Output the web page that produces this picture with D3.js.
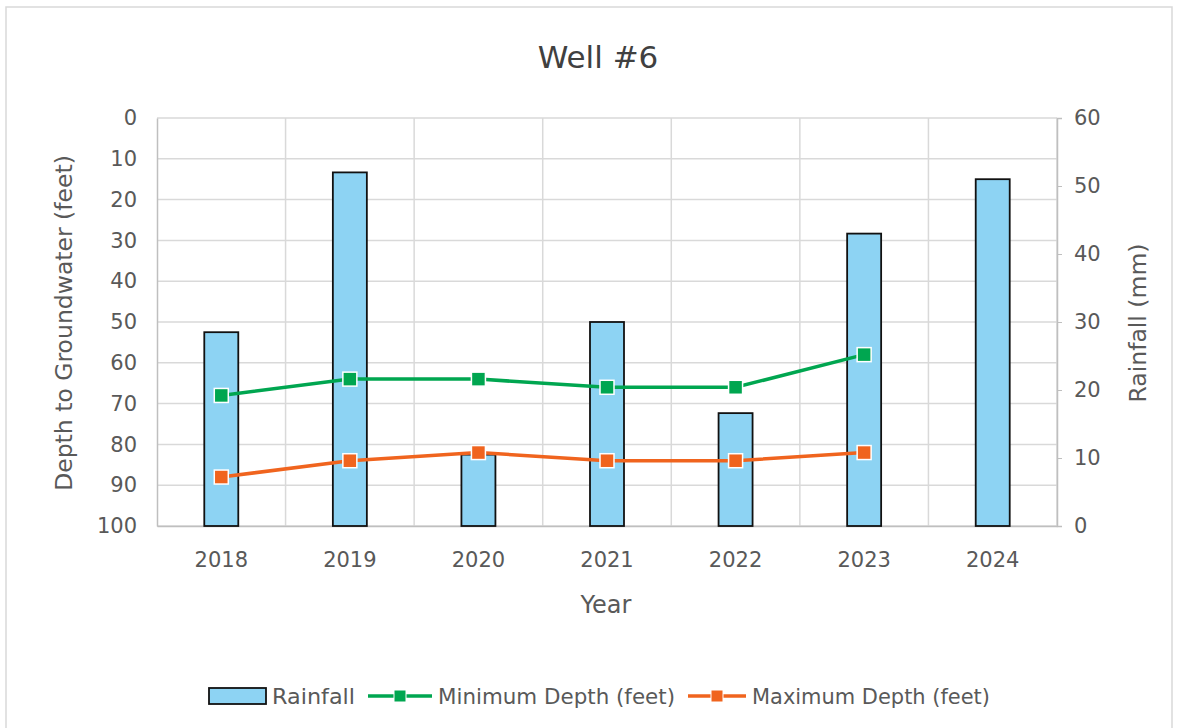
<!DOCTYPE html>
<html><head><meta charset="utf-8">
<script src="https://cdn.jsdelivr.net/npm/d3@7"></script>
<style>html,body{margin:0;padding:0;background:#fff;}svg{display:block;}</style>
</head><body>
<svg id="c" width="1184" height="728"></svg>
<script>
const years = ["2018","2019","2020","2021","2022","2023","2024"];
const rainfall = [28.5, 52, 10.5, 30, 16.6, 43, 51];
const minDepth = [68, 64, 64, 66, 66, 58, null];
const maxDepth = [88, 84, 82, 84, 84, 82, null];
const depthTicks = [0,10,20,30,40,50,60,70,80,90,100];
const rainTicks = [0,10,20,30,40,50,60];

const svg = d3.select("#c");
const L = 157, R = 1057, T = 118, B = 526;
const tickFont = "DejaVu Sans, Verdana, sans-serif";
const txt = "#595959";

svg.append("rect").attr("x",6).attr("y",7).attr("width",1166).attr("height",730)
  .attr("fill","#fff").attr("stroke","#d9d9d9").attr("stroke-width",1.5);

const x = d3.scaleBand().domain(years).range([L,R]).paddingInner(0).paddingOuter(0);
const yD = d3.scaleLinear().domain([0,100]).range([T,B]);
const yR = d3.scaleLinear().domain([0,60]).range([B,T]);

const g = svg.append("g");
g.selectAll(".hg").data(depthTicks).join("line")
  .attr("x1",L).attr("x2",R).attr("y1",d=>yD(d)).attr("y2",d=>yD(d))
  .attr("stroke","#d9d9d9").attr("stroke-width",1.5);
g.selectAll(".vg").data(years).join("line")
  .attr("x1",(d,i)=>L+x.step()*(i+1)).attr("x2",(d,i)=>L+x.step()*(i+1))
  .attr("y1",T).attr("y2",B).attr("stroke","#d9d9d9").attr("stroke-width",1.5);

const axL = svg.append("g").attr("transform",`translate(${L},0)`)
  .call(d3.axisLeft(yD).tickValues(depthTicks).tickSize(0).tickPadding(20));
axL.select(".domain").attr("stroke","#bfbfbf").attr("stroke-width",1.5);
axL.selectAll("text").attr("font-family",tickFont).attr("font-size",21).attr("fill",txt);

const axR = svg.append("g").attr("transform",`translate(${R},0)`)
  .call(d3.axisRight(yR).tickValues(rainTicks).tickSize(5).tickPadding(12));
axR.select(".domain").attr("stroke","#bfbfbf").attr("stroke-width",1.5);
axR.selectAll("line").attr("stroke","#bfbfbf");
axR.selectAll("text").attr("font-family",tickFont).attr("font-size",21).attr("fill",txt);

const axB = svg.append("g").attr("transform",`translate(0,${B})`)
  .call(d3.axisBottom(x).tickSize(0).tickPadding(26));
axB.select(".domain").attr("stroke","#bfbfbf").attr("stroke-width",1.5);
axB.selectAll("text").attr("font-family",tickFont).attr("font-size",21).attr("fill",txt);

const bw = 34;
svg.append("g").selectAll("rect").data(rainfall).join("rect")
  .attr("x",(d,i)=>x(years[i])+x.bandwidth()/2-bw/2)
  .attr("width",bw)
  .attr("y",d=>yR(d)).attr("height",d=>B-yR(d))
  .attr("fill","#8DD3F3").attr("stroke","#111").attr("stroke-width",1.8);

function series(vals,color){
  const pts = vals.map((v,i)=>({v,i})).filter(d=>d.v!==null);
  const line = d3.line().x(d=>x(years[d.i])+x.bandwidth()/2).y(d=>yD(d.v));
  svg.append("path").datum(pts).attr("d",line).attr("fill","none")
    .attr("stroke",color).attr("stroke-width",3.5);
  svg.append("g").selectAll("rect").data(pts).join("rect")
    .attr("x",d=>x(years[d.i])+x.bandwidth()/2-7)
    .attr("y",d=>yD(d.v)-7).attr("width",14).attr("height",14)
    .attr("fill",color).attr("stroke","#fff").attr("stroke-width",1.5);
}
const green = "#00A650", orange = "#F0641E";
series(minDepth, green);
series(maxDepth, orange);

svg.append("text").attr("x",598).attr("y",68).attr("text-anchor","middle")
  .attr("font-family",tickFont).attr("font-size",31)
  .attr("fill","#404040").text("Well #6");
svg.append("text").attr("x",606).attr("y",613).attr("text-anchor","middle")
  .attr("font-family",tickFont).attr("font-size",24).attr("fill",txt).text("Year");
svg.append("text").attr("transform","translate(72,323) rotate(-90)").attr("text-anchor","middle")
  .attr("font-family",tickFont).attr("font-size",23.5).attr("fill",txt).text("Depth to Groundwater (feet)");
svg.append("text").attr("transform","translate(1146,323) rotate(-90)").attr("text-anchor","middle")
  .attr("font-family",tickFont).attr("font-size",23.5).attr("fill",txt).text("Rainfall (mm)");

const legFont = tickFont;
const ly = 696;
const lg = svg.append("g");
lg.append("rect").attr("x",209).attr("y",ly-8).attr("width",57).attr("height",16)
  .attr("fill","#8DD3F3").attr("stroke","#111").attr("stroke-width",1.8);
lg.append("text").attr("x",272).attr("y",ly+8).attr("font-family",legFont).attr("font-size",22)
  .attr("textLength",83).attr("lengthAdjust","spacingAndGlyphs").attr("fill",txt).text("Rainfall");
[[368,432,green,438,237,"Minimum Depth (feet)"],[688,746,orange,752,238,"Maximum Depth (feet)"]].forEach(([a,b,c,tx,tl,t])=>{
  lg.append("line").attr("x1",a).attr("x2",b).attr("y1",ly).attr("y2",ly).attr("stroke",c).attr("stroke-width",3.5);
  lg.append("rect").attr("x",(a+b)/2-6).attr("y",ly-6).attr("width",12).attr("height",12).attr("fill",c).attr("stroke","#fff").attr("stroke-width",1);
  lg.append("text").attr("x",tx).attr("y",ly+8).attr("font-family",legFont).attr("font-size",22)
    .attr("textLength",tl).attr("lengthAdjust","spacingAndGlyphs").attr("fill",txt).text(t);
});
</script>
</body></html>
